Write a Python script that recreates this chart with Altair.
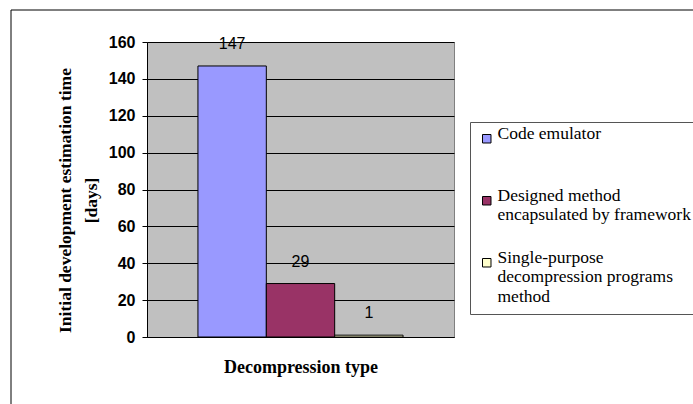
import altair as alt
import pandas as pd

# Series (one bar each) and their estimated development time in days
series = [
    "Code emulator",
    "Designed method\nencapsulated by framework",
    "Single-purpose\ndecompression programs\nmethod",
]
days = [147, 29, 1]
colors = ["#9999FF", "#993366", "#FFFFCC"]
y_ticks = [0, 20, 40, 60, 80, 100, 120, 140, 160]

df = pd.DataFrame({"series": series, "days": days})

serif = "Liberation Serif"
sans = "Liberation Sans"

x = alt.X(
    "series:N",
    sort=series,
    scale=alt.Scale(paddingInner=0, paddingOuter=0.745),
    axis=alt.Axis(
        labels=False,
        ticks=False,
        grid=False,
        domainColor="black",
        title="Decompression type",
        titleFont=serif,
        titleFontSize=18,
        titleFontWeight="bold",
        titleColor="black",
        titlePadding=21,
    ),
)

y = alt.Y(
    "days:Q",
    scale=alt.Scale(domain=[0, 160], nice=False),
    axis=alt.Axis(
        values=y_ticks,
        title=["Initial development estimation time", "[days]"],
        titleFont=serif,
        titleFontSize=17.5,
        titleFontWeight="bold",
        titleColor="black",
        titleLineHeight=26,
        titlePadding=8,
        titleY=158,
        labelFont=sans,
        labelFontSize=16,
        labelFontWeight="bold",
        labelColor="black",
        labelPadding=7,
        tickColor="black",
        tickSize=5,
        domainColor="black",
        grid=True,
        gridColor="black",
        gridWidth=1,
    ),
)

legend = alt.Legend(
    title=None,
    orient="none",
    legendX=323,
    legendY=80,
    padding=8,
    fillColor="white",
    strokeColor="#555555",
    labelFont=serif,
    labelFontSize=17.5,
    labelColor="black",
    labelLimit=400,
    labelBaseline="alphabetic",
    labelOffset=2,
    labelExpr="split(datum.label, '\\n')",
    symbolType="square",
    symbolSize=72,
    symbolStrokeColor="black",
    symbolStrokeWidth=1,
    symbolOpacity=1,
    gridAlign="all",
    rowPadding=4,
)

color = alt.Color(
    "series:N",
    sort=series,
    scale=alt.Scale(domain=series, range=colors),
    legend=legend,
)

bars = alt.Chart(df).mark_bar(stroke="black", strokeWidth=1, opacity=1).encode(
    x=x, y=y, color=color
)

value_labels = alt.Chart(df).mark_text(
    baseline="middle", dy=-22, font=sans, fontSize=16, color="black"
).encode(x=x, y=y, text="days:Q")

# Chart-area frame (top and left edges)
frame = pd.DataFrame({"k": [0]})
frame_top = alt.Chart(frame).mark_rule(color="black", strokeWidth=1).encode(
    x=alt.value(-136), x2=alt.value(700), y=alt.value(-32)
)
frame_left = alt.Chart(frame).mark_rule(color="black", strokeWidth=1).encode(
    x=alt.value(-136), y=alt.value(-32), y2=alt.value(400)
)

chart = (
    alt.layer(bars, value_labels, frame_top, frame_left)
    .properties(
        width=307,
        height=295,
        autosize=alt.AutoSizeParams(type="none"),
        padding={"left": 147, "top": 42, "right": 239, "bottom": 67},
        background="white",
    )
    .configure_view(fill="#C0C0C0", stroke="#808080", strokeWidth=1)
)

chart.save("out.html", embed_options={"renderer": "svg", "actions": False})
